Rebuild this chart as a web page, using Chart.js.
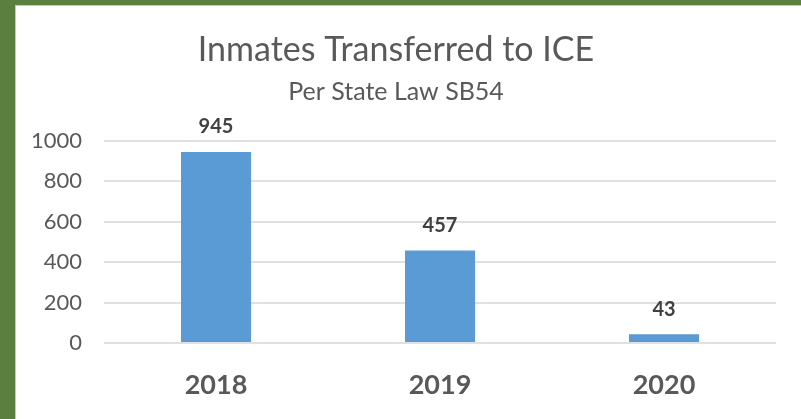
<!DOCTYPE html>
<html>
<head>
<meta charset="utf-8">
<script src="https://cdn.jsdelivr.net/npm/chart.js@4"></script>
<style>
  html, body { margin: 0; padding: 0; }
  body { width: 801px; height: 419px; background: #5b7f3e; position: relative; overflow: hidden; }
  #panel {
    position: absolute; left: 15px; top: 5px; width: 786px; height: 414px;
    background: #fff; border-left: 1px solid #c8c8c8; border-top: 1px solid #c8c8c8;
    box-sizing: border-box;
  }
  #barchart { position: absolute; left: 0; top: 0; display: block; }
</style>
</head>
<body>
<div id="panel"><canvas id="barchart" width="785" height="413"></canvas></div>
<script>
// data
const years = ['2018', '2019', '2020'];
const transferred = [945, 457, 43];
const yTicks = [0, 200, 400, 600, 800, 1000];

const fontName = 'Lato, "Open Sans", sans-serif';

// draws the number on top of each bar
const valueLabels = {
  id: 'valueLabels',
  afterDatasetsDraw(chart) {
    const ctx = chart.ctx;
    const meta = chart.getDatasetMeta(0);
    ctx.save();
    ctx.font = 'bold 20px ' + fontName;
    ctx.fillStyle = '#404040';
    ctx.textAlign = 'center';
    ctx.textBaseline = 'middle';
    meta.data.forEach((bar, i) => {
      ctx.fillText(String(transferred[i]), bar.x, bar.y - 25);
    });
    ctx.restore();
  }
};

const barchart = document.getElementById('barchart').getContext('2d');
const mychart = new Chart(barchart, {
  type: 'bar',
  data: {
    labels: years,
    datasets: [{
      label: 'Inmates',
      data: transferred,
      backgroundColor: '#5b9bd5',
      borderColor: '#5b9bd5',
      borderWidth: 0,
      barPercentage: 0.3125,
      categoryPercentage: 1
    }]
  },
  plugins: [valueLabels],
  options: {
    responsive: false,
    animation: false,
    layout: { padding: { left: 0, right: 25, top: 0, bottom: 0 } },
    plugins: {
      legend: { display: false },
      tooltip: { enabled: false },
      title: {
        display: true,
        text: 'Inmates Transferred to ICE',
        color: '#595959',
        font: { family: fontName, size: 34, weight: 'normal' },
        padding: { top: 24, bottom: 4 }
      },
      subtitle: {
        display: true,
        text: 'Per State Law SB54',
        color: '#595959',
        font: { family: fontName, size: 25, weight: 'normal' },
        padding: { top: 2, bottom: 34 }
      }
    },
    scales: {
      x: {
        afterFit(axis) { axis.height = 76; },
        grid: { display: false, drawTicks: false },
        border: { display: false },
        ticks: {
          color: '#595959',
          font: { family: fontName, size: 27, weight: 'bold' },
          padding: 26
        }
      },
      y: {
        min: 0,
        max: 1000,
        afterBuildTicks(axis) {
          axis.ticks = yTicks.map(v => ({ value: v }));
        },
        afterFit(axis) { axis.width = 88; },
        grid: { color: '#e0e0e0', lineWidth: 2, drawTicks: false },
        border: { display: false },
        ticks: {
          color: '#595959',
          font: { family: fontName, size: 22 },
          padding: 22,
          callback: v => String(v)
        }
      }
    }
  }
});
</script>
</body>
</html>
